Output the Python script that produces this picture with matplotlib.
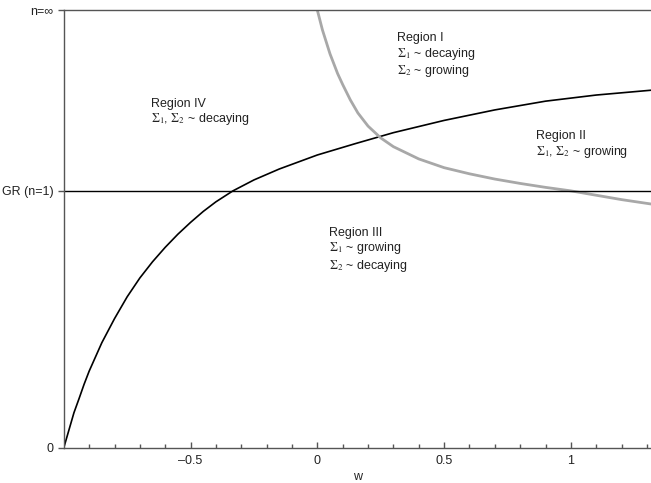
import matplotlib.pyplot as plt
import numpy as np

plt.rcParams['font.family'] = ['Liberation Sans', 'DejaVu Sans']
plt.rcParams['mathtext.fontset'] = 'stix'

# y is a compactified n axis: 0 -> n=0, GR_LEVEL -> n=1, 1 -> n=inf
GR_LEVEL = 0.587

# black curve (boundary for Sigma_1)
w_black = [-1.0, -0.98, -0.96, -0.94, -0.92, -0.9, -0.85, -0.8, -0.75, -0.7, -0.65,
           -0.6, -0.55, -0.5, -0.45, -0.4, -0.333, -0.25, -0.15, 0.0, 0.15, 0.3,
           0.5, 0.7, 0.9, 1.1, 1.316]
y_black = [0.0, 0.04, 0.08, 0.112, 0.145, 0.175, 0.24, 0.295, 0.345, 0.388, 0.425,
           0.458, 0.488, 0.515, 0.54, 0.562, 0.587, 0.612, 0.637, 0.669, 0.695, 0.72,
           0.748, 0.772, 0.792, 0.806, 0.817]

# grey curve (boundary for Sigma_2)
w_grey = [0.0, 0.02, 0.05, 0.08, 0.1, 0.13, 0.16, 0.2, 0.25, 0.3, 0.4, 0.5, 0.6,
          0.7, 0.8, 0.9, 1.0, 1.1, 1.2, 1.316]
y_grey = [1.0, 0.955, 0.9, 0.855, 0.83, 0.795, 0.765, 0.735, 0.708, 0.688, 0.66,
          0.64, 0.626, 0.614, 0.604, 0.595, 0.587, 0.577, 0.567, 0.557]

x_ticks = [-0.5, 0, 0.5, 1]
x_labels = ["\u20130.5", "0", "0.5", "1"]
y_ticks = [0, GR_LEVEL, 1]
y_labels = ["0", "GR (n=1)", "n=\u221e"]

region_text = [
    (0.316, 0.95, "Region I\n$\\Sigma_1$ ~ decaying\n$\\Sigma_2$ ~ growing"),
    (-0.656, 0.80, "Region IV\n$\\Sigma_1$, $\\Sigma_2$ ~ decaying"),
    (0.862, 0.725, "Region II\n$\\Sigma_1$, $\\Sigma_2$ ~ growing"),
    (0.047, 0.505, "Region III\n$\\Sigma_1$ ~ growing\n$\\Sigma_2$ ~ decaying"),
]

fig = plt.figure(figsize=(6.51, 4.83), dpi=100)
ax = fig.add_axes([0.098, 0.073, 0.902, 0.906])

ax.plot(w_black, y_black, color="black", lw=1.2)
ax.plot(w_grey, y_grey, color="#a8a8a8", lw=2.0)
ax.axhline(GR_LEVEL, color="black", lw=1.0)

for x, y, s in region_text:
    ax.text(x, y, s, fontsize=9, va="top", ha="left", linespacing=1.15, color="#222222")

ax.set_xlim(-1, 1.316)
ax.set_ylim(0, 1)
ax.set_xticks(x_ticks)
ax.set_xticklabels(x_labels)
ax.set_xticks(np.arange(-0.9, 1.31, 0.1), minor=True)
ax.set_yticks(y_ticks)
ax.set_yticklabels(y_labels)
ax.tick_params(axis="x", direction="in", length=4, width=1, colors="#555555", labelcolor="#222222", labelsize=9, pad=5)
ax.tick_params(axis="x", which="minor", direction="in", length=3, width=1, colors="#555555")
ax.tick_params(axis="y", direction="out", length=4, width=1, colors="#555555", labelcolor="#222222", labelsize=9)
ax.set_xlabel("w", fontsize=9, color="#222222", labelpad=3)

ax.spines["right"].set_visible(False)
for side in ["left", "bottom", "top"]:
    ax.spines[side].set_color("#555555")
    ax.spines[side].set_linewidth(1.0)

fig.savefig("out.png", dpi=100)
